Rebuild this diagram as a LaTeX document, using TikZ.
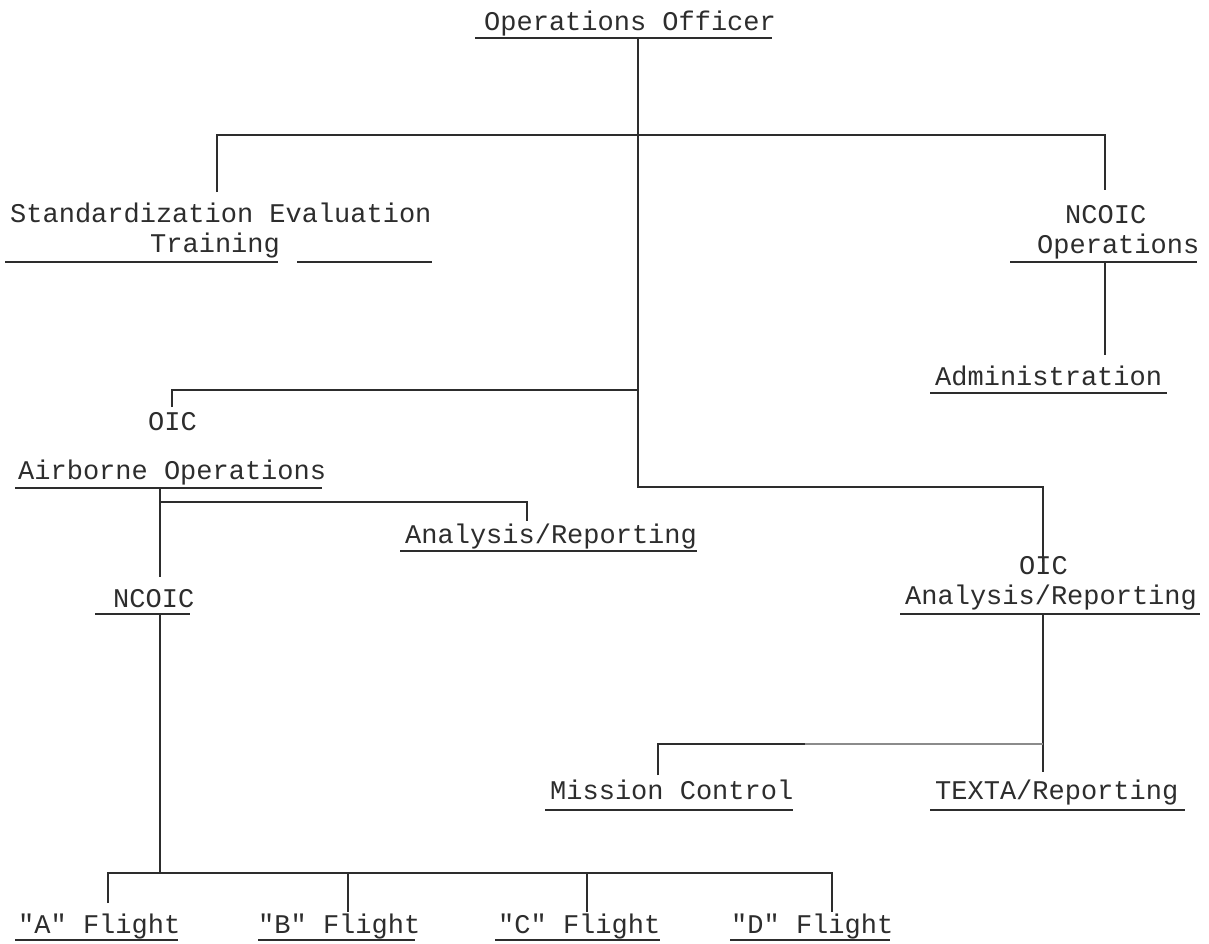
\documentclass[tikz,border=0pt]{standalone}
\usepackage{fontspec}
\newfontfamily\tw{Liberation Mono}
\definecolor{ink}{RGB}{45,45,45}
\begin{document}
\begin{tikzpicture}[x=1pt,y=-1pt,
  lbl/.style={font=\tw\fontsize{27}{30}\selectfont, anchor=base west, inner sep=0pt, text=ink},
  conn/.style={draw=ink, line width=1.6pt},
  faint/.style={draw=ink!55, line width=1.4pt},
  uline/.style={draw=ink, line width=2.2pt}]
\useasboundingbox (0,0) rectangle (1209,943);
\fill[white] (0,0) rectangle (1209,943);

% ---------- labels ----------
\node[lbl] (ops)    at (484,30)  {Operations Officer};
\node[lbl] (std1)   at (10,222)  {Standardization Evaluation};
\node[lbl] (std2)   at (150,252) {Training};
\node[lbl] (nco1)   at (1065,223) {NCOIC};
\node[lbl] (nco2)   at (1037,253) {Operations};
\node[lbl] (adm)    at (935,385) {Administration};
\node[lbl] (oicA1)  at (148,430) {OIC};
\node[lbl] (oicA2)  at (18,479)  {Airborne Operations};
\node[lbl] (ana)    at (405,543) {Analysis/Reporting};
\node[lbl] (ncoL)   at (113,607) {NCOIC};
\node[lbl] (oicR1)  at (1019,574) {OIC};
\node[lbl] (oicR2)  at (905,604) {Analysis/Reporting};
\node[lbl] (mis)    at (550,799) {Mission Control};
\node[lbl] (texta)  at (935,799) {TEXTA/Reporting};
\node[lbl] (fa)     at (18,933)  {"A" Flight};
\node[lbl] (fb)     at (258,933) {"B" Flight};
\node[lbl] (fc)     at (498,933) {"C" Flight};
\node[lbl] (fd)     at (731,933) {"D" Flight};

% ---------- underlines ----------
\draw[uline] (475,38) -- (772,38);
\draw[uline] (5,262) -- (278,262);
\draw[uline] (297,262) -- (432,262);
\draw[uline] (1010,262) -- (1197,262);
\draw[uline] (930,393) -- (1167,393);
\draw[uline] (15,488) -- (322,488);
\draw[uline] (400,551) -- (697,551);
\draw[uline] (95,614) -- (190,614);
\draw[uline] (900,614) -- (1200,614);
\draw[uline] (545,810) -- (793,810);
\draw[uline] (930,810) -- (1185,810);
\draw[uline] (15,940) -- (178,940);
\draw[uline] (258,940) -- (415,940);
\draw[uline] (495,940) -- (660,940);
\draw[uline] (730,940) -- (890,940);

% ---------- connector end points ----------
\coordinate (opsB)   at (638,38);
\coordinate (topJ)   at (638,135);
\coordinate (stdT)   at (217,192);
\coordinate (ncoT)   at (1105,190);
\coordinate (ncoB)   at (1105,262);
\coordinate (admT)   at (1105,355);
\coordinate (midJ)   at (638,390);
\coordinate (oicAT)  at (172,407);
\coordinate (botJ)   at (638,487);
\coordinate (oicRT)  at (1043,562);
\coordinate (airB)   at (160,488);
\coordinate (anaJ)   at (160,502);
\coordinate (anaT)   at (527,521);
\coordinate (ncoLT)  at (160,577);
\coordinate (ncoLB)  at (160,614);
\coordinate (fltJ)   at (160,873);
\coordinate (faT)    at (108,903);
\coordinate (fbT)    at (348,912);
\coordinate (fcT)    at (587,912);
\coordinate (fdT)    at (832,912);
\coordinate (oicRB)  at (1043,614);
\coordinate (mcJ)    at (1043,744);
\coordinate (mcM)    at (805,744);
\coordinate (textaT) at (1043,772);
\coordinate (misT)   at (658,775);

% ---------- connectors ----------
\draw[conn] (opsB) -- (botJ) -| (oicRT);
\draw[conn] (stdT) |- (topJ) -| (ncoT);
\draw[conn] (ncoB) -- (admT);
\draw[conn] (oicAT) |- (midJ);
\draw[conn] (airB) -- (ncoLT);
\draw[conn] (anaJ) -| (anaT);
\draw[conn] (ncoLB) -- (fltJ);
\draw[conn] (faT) |- (fltJ) -| (fdT);
\draw[conn] (fbT) -- (fbT |- fltJ);
\draw[conn] (fcT) -- (fcT |- fltJ);
\draw[conn] (oicRB) -- (textaT);
\draw[conn] (misT) |- (mcM);
\draw[faint] (mcM) -- (mcJ);
\end{tikzpicture}
\end{document}
